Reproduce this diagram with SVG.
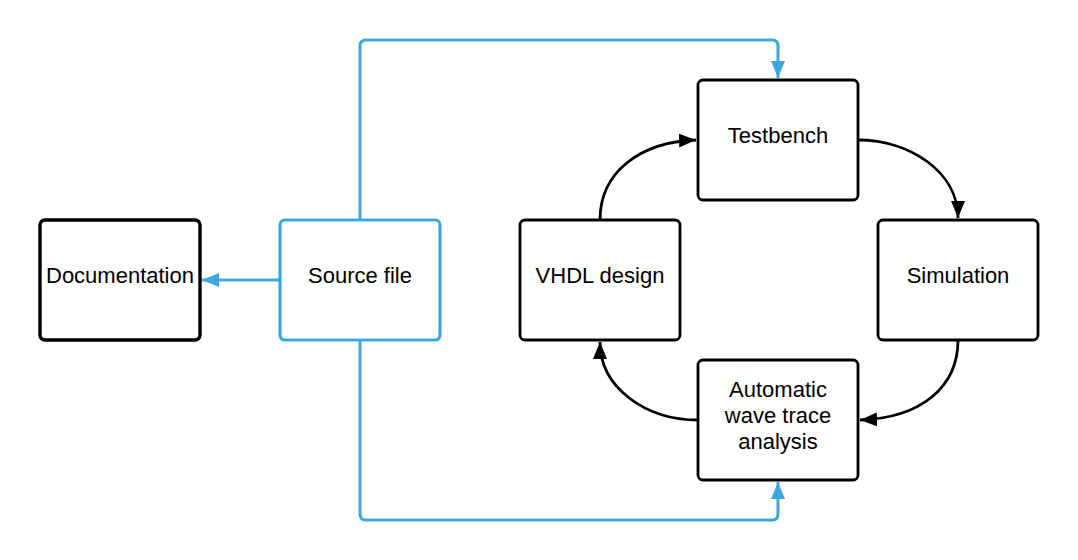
<svg xmlns="http://www.w3.org/2000/svg" width="1078" height="560" viewBox="0 0 1078 560">
<defs>
<style>
.box{fill:#ffffff;stroke:#000000;stroke-width:2.8}
.doc{fill:#ffffff;stroke:#000000;stroke-width:3.4}
.src{fill:#ffffff;stroke:#3ea6dd;stroke-width:3.2}
.lbl{font-family:"Liberation Sans",Arial,sans-serif;font-size:22px;fill:#000000;text-anchor:middle}
.blk{fill:none;stroke:#000000;stroke-width:2.8}
.blu{fill:none;stroke:#3ea6dd;stroke-width:3;stroke-linejoin:round}
</style>
<marker id="ab" markerUnits="userSpaceOnUse" markerWidth="18" markerHeight="16" viewBox="0 0 18 16" refX="17" refY="8" orient="auto">
<path d="M0,1 L17,8 L0,15 Z" fill="#000000"/>
</marker>
<marker id="au" markerUnits="userSpaceOnUse" markerWidth="18" markerHeight="16" viewBox="0 0 18 16" refX="17" refY="8" orient="auto">
<path d="M0,1 L17,8 L0,15 Z" fill="#3ea6dd"/>
</marker>
</defs>
<g id="connectors">
<path class="blk" d="M600,220 C600,172 640,142 696,140" marker-end="url(#ab)"/>
<path class="blk" d="M858,140 C910,140 958,172 958,218" marker-end="url(#ab)"/>
<path class="blk" d="M958,340 C958,388 920,418 860,420" marker-end="url(#ab)"/>
<path class="blk" d="M698,420 C646,420 600,388 600,342" marker-end="url(#ab)"/>
<path class="blu" d="M360,220 L360,46 Q360,40 366,40 L772,40 Q778,40 778,46 L778,78" marker-end="url(#au)"/>
<path class="blu" d="M360,340 L360,514 Q360,520 366,520 L772,520 Q778,520 778,514 L778,482" marker-end="url(#au)"/>
<path class="blu" d="M280,280 L202,280" marker-end="url(#au)"/>
</g>
<g id="documentation">
<rect class="doc" x="40" y="220" width="160" height="120" rx="5"/>
<text class="lbl" x="120" y="283">Documentation</text>
</g>
<g id="source-file">
<rect class="src" x="280" y="220" width="160" height="120" rx="5"/>
<text class="lbl" x="360" y="283">Source file</text>
</g>
<g id="testbench">
<rect class="box" x="698" y="80" width="160" height="120" rx="5"/>
<text class="lbl" x="778" y="143">Testbench</text>
</g>
<g id="vhdl-design">
<rect class="box" x="520" y="220" width="160" height="120" rx="5"/>
<text class="lbl" x="600" y="283">VHDL design</text>
</g>
<g id="simulation">
<rect class="box" x="878" y="220" width="160" height="120" rx="5"/>
<text class="lbl" x="958" y="283">Simulation</text>
</g>
<g id="analysis">
<rect class="box" x="698" y="360" width="160" height="120" rx="5"/>
<text class="lbl" x="778" y="397">Automatic</text>
<text class="lbl" x="778" y="423">wave trace</text>
<text class="lbl" x="778" y="449">analysis</text>
</g>
</svg>
